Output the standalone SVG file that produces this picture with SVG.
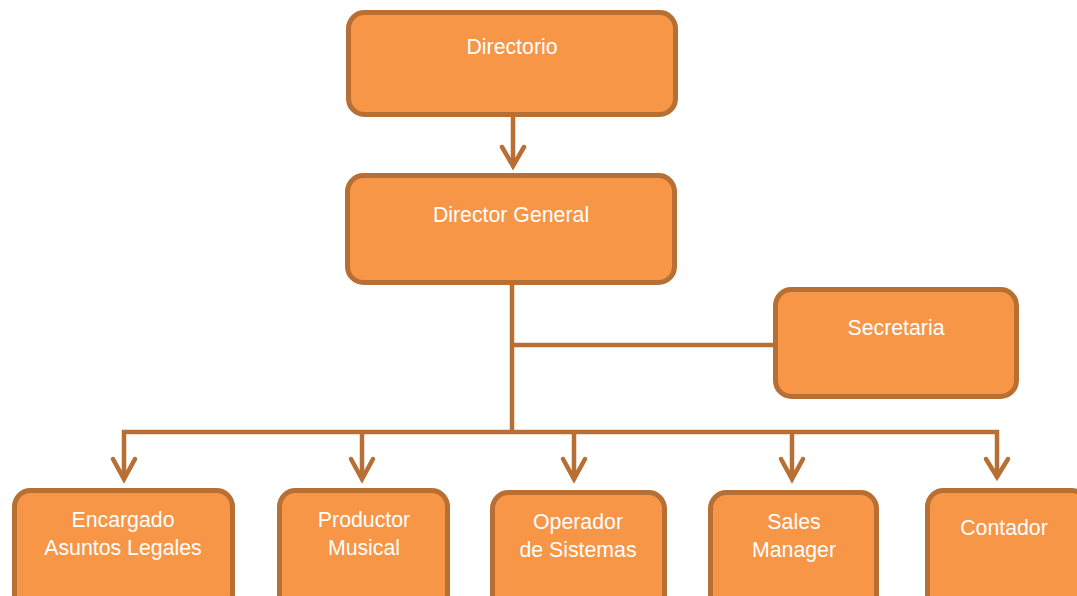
<svg xmlns="http://www.w3.org/2000/svg" width="1077" height="596" viewBox="0 0 1077 596">
<style>
.box{fill:#F79646;stroke:#B76F34;stroke-width:5}
.t{font-family:"Liberation Sans",Arial,sans-serif;font-size:21.3px;fill:#FFFFFF;text-anchor:middle}
.c{fill:none;stroke:#B76F34;stroke-width:4.5;stroke-linecap:butt}
.ah{fill:none;stroke:#B76F34;stroke-width:4.5;stroke-linecap:round;stroke-linejoin:miter}
</style>
<rect width="1077" height="596" fill="#FFFFFF"/>
<g id="connectors">
<line class="c" x1="513" y1="116" x2="513" y2="164"/>
<polyline class="ah" points="502,147 513,166 524,147"/>
<line class="c" x1="512" y1="284" x2="512" y2="434"/>
<line class="c" x1="512" y1="345" x2="775" y2="345"/>
<polyline class="c" points="124,478 124,432 997,432 997,478"/>
<line class="c" x1="362" y1="432" x2="362" y2="478"/>
<line class="c" x1="574" y1="432" x2="574" y2="478"/>
<line class="c" x1="792" y1="432" x2="792" y2="478"/>
<polyline class="ah" points="113,459 124,479 135,459"/>
<polyline class="ah" points="351,459 362,479 373,459"/>
<polyline class="ah" points="563,459 574,479 585,459"/>
<polyline class="ah" points="781,459 792,479 803,459"/>
<polyline class="ah" points="986,459 997,477 1008,459"/>
</g>
<g id="directorio">
<rect class="box" x="348.5" y="12.5" width="327" height="102" rx="16"/>
<text class="t" x="512" y="54">Directorio</text>
</g>
<g id="director-general">
<rect class="box" x="347.5" y="175.5" width="327" height="107" rx="16"/>
<text class="t" x="511" y="222">Director General</text>
</g>
<g id="secretaria">
<rect class="box" x="775.5" y="289.5" width="241" height="107" rx="16"/>
<text class="t" x="896" y="335">Secretaria</text>
</g>
<g id="encargado">
<rect class="box" x="14.5" y="490.5" width="218" height="120" rx="16"/>
<text class="t" x="123" y="527">Encargado</text>
<text class="t" x="123" y="555">Asuntos Legales</text>
</g>
<g id="productor">
<rect class="box" x="279.5" y="490.5" width="168" height="120" rx="16"/>
<text class="t" x="364" y="527">Productor</text>
<text class="t" x="364" y="555">Musical</text>
</g>
<g id="operador">
<rect class="box" x="492.5" y="492.5" width="172" height="120" rx="16"/>
<text class="t" x="578" y="529">Operador</text>
<text class="t" x="578" y="557">de Sistemas</text>
</g>
<g id="sales">
<rect class="box" x="710.5" y="492.5" width="166" height="120" rx="16"/>
<text class="t" x="794" y="529">Sales</text>
<text class="t" x="794" y="557">Manager</text>
</g>
<g id="contador">
<rect class="box" x="927.5" y="490.5" width="160" height="120" rx="16"/>
<text class="t" x="1004" y="535">Contador</text>
</g>
</svg>
